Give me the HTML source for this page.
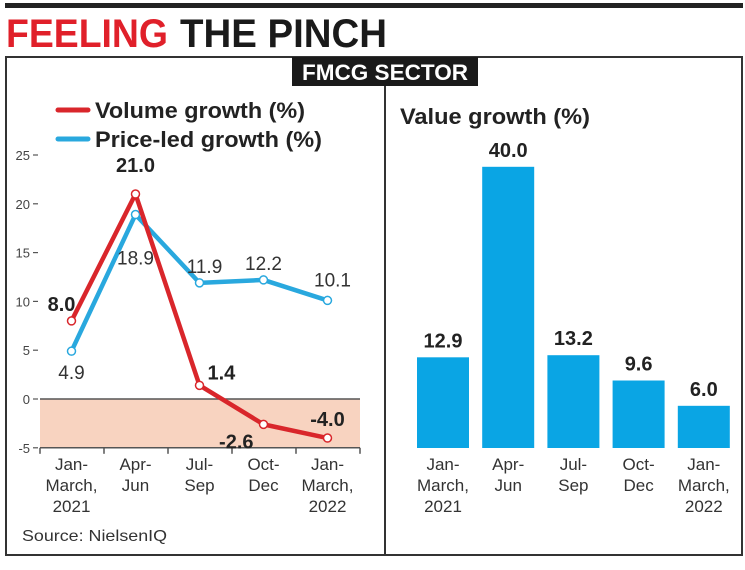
<!DOCTYPE html>
<html><head><meta charset="utf-8"><style>
html,body{margin:0;padding:0;background:#fff;}
svg{display:block;font-family:"Liberation Sans",sans-serif;}
</style></head><body>
<svg id="c" width="745" height="570" viewBox="0 0 745 570" xmlns="http://www.w3.org/2000/svg">
<rect x="0" y="0" width="745" height="570" fill="#fff"/>
<rect x="5" y="3" width="738" height="5" fill="#222"/>
<text x="6" y="47" font-size="40" font-weight="bold" fill="#e0202a" textLength="162" lengthAdjust="spacingAndGlyphs">FEELING</text>
<text x="180" y="47" font-size="40" font-weight="bold" fill="#1a1a1a" textLength="207" lengthAdjust="spacingAndGlyphs">THE PINCH</text>
<rect x="6" y="57" width="736" height="498" fill="none" stroke="#333" stroke-width="2"/>
<line x1="385" y1="86" x2="385" y2="555" stroke="#333" stroke-width="2"/>
<rect x="292" y="57" width="186" height="29" fill="#1a1a1a"/>
<text x="302" y="80" font-size="22" font-weight="bold" fill="#fff" textLength="166" lengthAdjust="spacingAndGlyphs">FMCG SECTOR</text>
<line x1="58" y1="110" x2="88" y2="110" stroke="#d9262b" stroke-width="5" stroke-linecap="round"/>
<text x="95" y="118" font-size="22" font-weight="bold" fill="#222" textLength="210" lengthAdjust="spacingAndGlyphs">Volume growth (%)</text>
<line x1="58" y1="139" x2="88" y2="139" stroke="#29a8de" stroke-width="5" stroke-linecap="round"/>
<text x="95" y="147" font-size="22" font-weight="bold" fill="#222" textLength="227" lengthAdjust="spacingAndGlyphs">Price-led growth (%)</text>
<text x="400" y="124" font-size="22" font-weight="bold" fill="#222" textLength="190" lengthAdjust="spacingAndGlyphs">Value growth (%)</text>
<text x="22" y="541" font-size="16" fill="#333" textLength="145" lengthAdjust="spacingAndGlyphs">Source: NielsenIQ</text>
<g id="left"></g><g id="right"></g>
</svg>
<script>
const categories=[["Jan-","March,","2021"],["Apr-","Jun"],["Jul-","Sep"],["Oct-","Dec"],["Jan-","March,","2022"]];
const volume=[8.0,21.0,1.4,-2.6,-4.0];
const price=[4.9,18.9,11.9,12.2,10.1];
const valueGrowth=[12.9,40.0,13.2,9.6,6.0];
const yTicks=[25,20,15,10,5,0,-5];
const NS="http://www.w3.org/2000/svg";
function mk(p,t,a){const e=document.createElementNS(NS,t);for(const k in a)e.setAttribute(k,a[k]);p.appendChild(e);return e;}
const L=document.getElementById('left'),R=document.getElementById('right');
const ly=v=>399-v*9.76;
const lx=i=>71.5+i*64;
let s=mk(L,'rect',{x:40,y:ly(0),width:320,height:ly(-5)-ly(0),fill:'#f8d3c0'});


let z=mk(L,'line',{x1:40,y1:ly(0),x2:360,y2:ly(0),stroke:'#555','stroke-width':1.5});


let ax=mk(L,'line',{x1:40,y1:ly(-5),x2:360,y2:ly(-5),stroke:'#555','stroke-width':1.5});


for(let i=0;i<=5;i++){let t=mk(L,'line',{x1:40+i*64,y1:ly(-5),x2:40+i*64,y2:ly(-5)+6,stroke:'#555','stroke-width':1.5});

}
yTicks.forEach(v=>{let t=mk(L,'text',{x:30,y:ly(v)+5,'font-size':13,fill:'#444','text-anchor':'end'});t.textContent=v;


let m=mk(L,'line',{x1:33,y1:ly(v),x2:38,y2:ly(v),stroke:'#555','stroke-width':1.2});

});
function catLabels(g,xf,y0){categories.forEach((c,i)=>{let t=mk(g,'text',{x:xf(i),y:y0,'font-size':17,fill:'#333','text-anchor':'middle'});


c.forEach((w,j)=>{let sp=mk(t,'tspan',{x:xf(i),dy:j?21:0});sp.textContent=w;});});}
catLabels(L,lx,470);
function series(arr,col,name){let d=arr.map((v,i)=>(i?'L':'M')+lx(i)+' '+ly(v)).join(' ');
let p=mk(L,'path',{d:d,fill:'none',stroke:col,'stroke-width':4.5,'stroke-linejoin':'round'});


arr.forEach((v,i)=>{let c=mk(L,'circle',{cx:lx(i),cy:ly(v),r:4,fill:'#fff',stroke:col,'stroke-width':1.5});

});}
series(price,'#29a8de','price');
series(volume,'#d9262b','volume');
const volOff=[[-10,-10,'middle'],[0,-22,'middle'],[8,-6,'start'],[-10,24,'end'],[0,-12,'middle']];
volume.forEach((v,i)=>{const o=volOff[i];let t=mk(L,'text',{x:lx(i)+o[0],y:ly(v)+o[1],'font-size':20,'font-weight':'bold',fill:'#222','text-anchor':o[2]});t.textContent=v.toFixed(1);

});
const priOff=[[0,28],[0,50],[5,-10],[0,-10],[5,-14]];
price.forEach((v,i)=>{const o=priOff[i];let t=mk(L,'text',{x:lx(i)+o[0],y:ly(v)+o[1],'font-size':19,fill:'#333','text-anchor':'middle'});t.textContent=v.toFixed(1);

});
const ry=v=>448-v*7.03;
const rx=i=>443+i*65.2;
valueGrowth.forEach((v,i)=>{let b=mk(R,'rect',{x:rx(i)-26,y:ry(v),width:52,height:ry(0)-ry(v),fill:'#0aa5e4'});


let t=mk(R,'text',{x:rx(i),y:ry(v)-10,'font-size':20,'font-weight':'bold',fill:'#222','text-anchor':'middle'});t.textContent=v.toFixed(1);

});
catLabels(R,rx,470);
</script>
</body></html>
